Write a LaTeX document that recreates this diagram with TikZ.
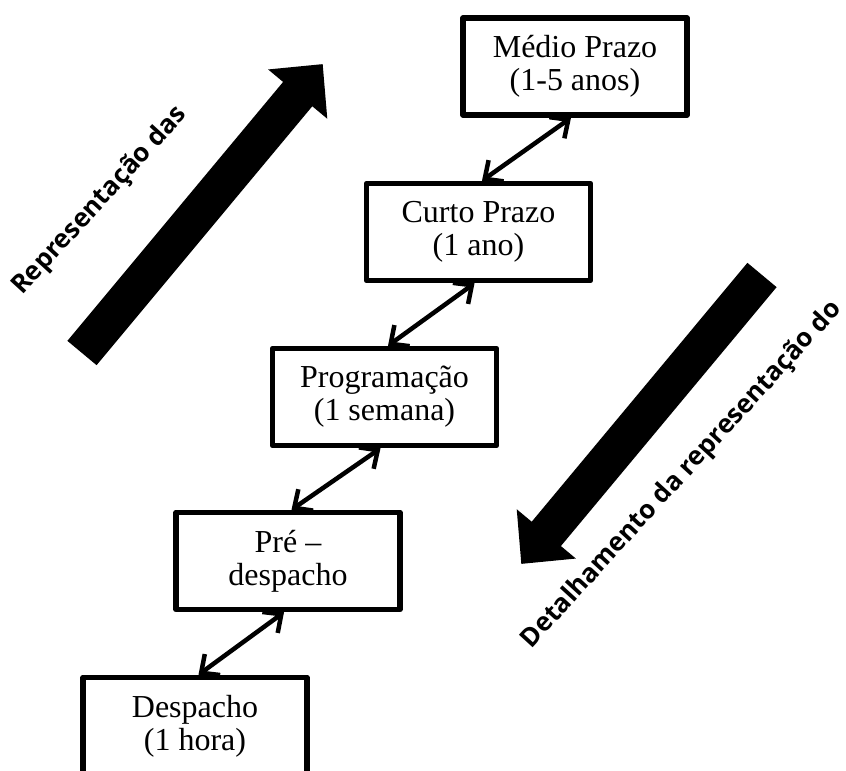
\documentclass[tikz,border=0pt]{standalone}
\usepackage{fontspec}
\setmainfont{Liberation Serif}
\newfontfamily\labelsans{Open Sans}
\usetikzlibrary{arrows.meta}
\begin{document}
\begin{tikzpicture}[x=1pt,y=-1pt,
  level/.style={draw, line width=5.5pt, line join=round, minimum width=224pt,
    minimum height=97pt, inner sep=0pt, align=center,
    font=\fontsize{32}{33}\selectfont},
  barb/.tip={Straight Barb[length=14pt,width=26pt,line width=4.5pt]},
  link/.style={line width=4.5pt, barb-barb},
  slabel/.style={font=\labelsans\bfseries\fontsize{26}{30}\selectfont, inner sep=0pt},
  bigarrow/.style={fill=black}
]
\useasboundingbox (0,0) rectangle (846,771);
\clip (0,0) rectangle (846,771);

% planning levels
\node[level] (medio) at (575,66.5) {Médio Prazo\\(1-5 anos)};
\node[level] (curto) at (478.5,232) {Curto Prazo\\(1 ano)};
\node[level] (prog)  at (384.5,397) {Programação\\(1 semana)};
\node[level] (pre)   at (288,561) {Pré –\\despacho};
\node[level] (desp)  at (195,726) {Despacho\\(1 hora)};

% two-way links between neighbouring levels
\draw[link] ([xshift=3.5pt]curto.north) -- ([xshift=-4pt]medio.south);
\draw[link] ([xshift=3.5pt]prog.north)  -- ([xshift=-4pt]curto.south);
\draw[link] ([xshift=3.5pt]pre.north)   -- ([xshift=-4pt]prog.south);
\draw[link] ([xshift=3.5pt]desp.north)  -- ([xshift=-4pt]pre.south);

% thick block arrows
\begin{scope}[shift={(82,353)}, rotate=50.2]
  \fill[bigarrow] (0,-19) -- (337,-19) -- (337,-38.5) -- (376,0)
    -- (337,38.5) -- (337,19) -- (0,19) -- cycle;
\end{scope}
\begin{scope}[shift={(762,275)}, rotate=230.2]
  \fill[bigarrow] (0,-19) -- (337,-19) -- (337,-38.5) -- (376,0)
    -- (337,38.5) -- (337,19) -- (0,19) -- cycle;
\end{scope}

% arrow captions
\node[slabel, rotate=47.5] (uplabel) at (100,201) {Representação das};
\node[slabel, rotate=47.5] (downlabel) at (682,475) {Detalhamento da representação do};
\end{tikzpicture}
\end{document}
